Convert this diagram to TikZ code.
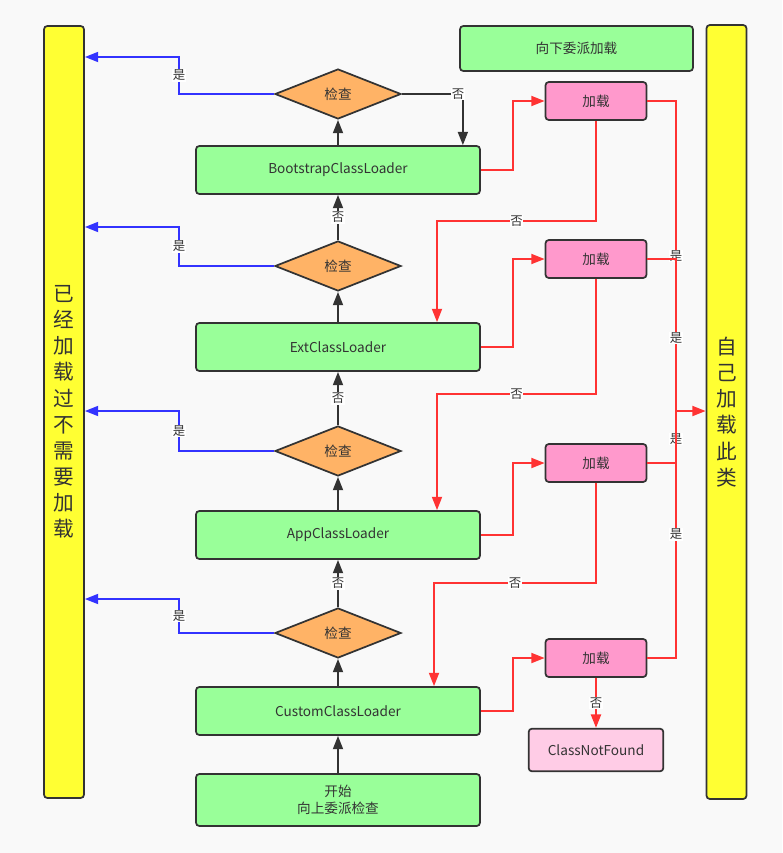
\documentclass[tikz,border=0pt]{standalone}
\usepackage{fontspec}
\setmainfont{Noto Sans CJK SC}
\usetikzlibrary{shapes.geometric,arrows.meta}
\definecolor{bgcol}{HTML}{F9F9F9}
\definecolor{edgecol}{HTML}{333333}
\definecolor{greenfill}{HTML}{99FF99}
\definecolor{yellowfill}{HTML}{FFFF33}
\definecolor{orangefill}{HTML}{FFB366}
\definecolor{pinkfill}{HTML}{FF99CC}
\definecolor{lightpink}{HTML}{FFCCE6}
\definecolor{redline}{HTML}{FF3333}
\definecolor{blueline}{HTML}{3333FF}
\begin{document}
\begin{tikzpicture}[x=0.75pt,y=-0.75pt,
    font=\fontsize{10.2}{12.5}\selectfont, text=edgecol,
    box/.style={draw=edgecol, line width=1.3pt, rounded corners=2.5pt, align=center, inner sep=0pt},
    loader/.style={box, fill=greenfill, minimum width=213pt, minimum height=36pt},
    check/.style={diamond, draw=edgecol, line width=1.3pt, fill=orangefill, minimum width=94.5pt, minimum height=37.5pt, inner sep=0pt},
    loadbox/.style={box, fill=pinkfill, minimum width=75.75pt, minimum height=28.5pt},
    barbox/.style={box, fill=yellowfill, minimum width=30pt, minimum height=579pt, font=\fontsize{15.5}{19.6}\selectfont},
    lbl/.style={fill=white, inner sep=0.5pt, font=\fontsize{9.3}{10}\selectfont},
    tip/.style={-{Triangle[length=10pt,width=7.5pt]}},
    up/.style={draw=edgecol, line width=1.4pt, tip},
    yes/.style={draw=blueline, line width=1.4pt, tip},
    load/.style={draw=redline, line width=1.4pt, tip},
    loadline/.style={draw=redline, line width=1.4pt}]
\fill[bgcol] (0,0) rectangle (782,853);
\useasboundingbox (0,0) rectangle (782,853);

\node[barbox] (done) at (64,412) {已\\经\\加\\载\\过\\不\\需\\要\\加\\载};
\node[barbox, minimum height=580.5pt] (self) at (726.5,412) {自\\己\\加\\载\\此\\类};
\node[loader, minimum width=174.75pt, minimum height=33.75pt] (down) at (576.5,48.5) {向下委派加载};

\node[loader] (boot) at (338,170) {BootstrapClassLoader};
\node[loader] (ext) at (338,347) {ExtClassLoader};
\node[loader] (app) at (338,535) {AppClassLoader};
\node[loader] (custom) at (338,711) {CustomClassLoader};
\node[loader, minimum height=39pt] (start) at (338,800) {开始\\向上委派检查};

\node[check] (c1) at (338,94) {检查};
\node[check] (c2) at (338,266) {检查};
\node[check] (c3) at (338,451) {检查};
\node[check] (c4) at (338,633) {检查};

\node[loadbox] (l1) at (596,101) {加载};
\node[loadbox] (l2) at (596,259) {加载};
\node[loadbox] (l3) at (596,463) {加载};
\node[loadbox] (l4) at (596,658) {加载};
\node[box, fill=lightpink, minimum width=101pt, minimum height=32pt] (nf) at (596,750) {ClassNotFound};

% upward delegation
\draw[up] (start) -- (custom);
\draw[up] (custom) -- (c4);
\draw[up] (c4) -- node[lbl]{否} (app);
\draw[up] (app) -- (c3);
\draw[up] (c3) -- node[lbl]{否} (ext);
\draw[up] (ext) -- (c2);
\draw[up] (c2) -- node[lbl]{否} (boot);
\draw[up] (boot) -- (c1);
\draw[up] (c1.east) -| node[lbl,pos=0.46]{否} ([xshift=-13.5pt]boot.north east);

% already loaded
\coordinate (b1) at (179,57);
\coordinate (b2) at (179,227);
\coordinate (b3) at (179,411);
\coordinate (b4) at (179,599);
\draw[yes] (c1.west) -| node[lbl,pos=0.75]{是} (b1) -- (b1 -| done.east);
\draw[yes] (c2.west) -| node[lbl,pos=0.75]{是} (b2) -- (b2 -| done.east);
\draw[yes] (c3.west) -| node[lbl,pos=0.75]{是} (b3) -- (b3 -| done.east);
\draw[yes] (c4.west) -| node[lbl,pos=0.75]{是} (b4) -- (b4 -| done.east);

% downward loading
\draw[load] (boot.east) -- ++(32,0) |- (l1.west);
\draw[load] (ext.east) -- ++(32,0) |- (l2.west);
\draw[load] (app.east) -- ++(32,0) |- (l3.west);
\draw[load] (custom.east) -- ++(32,0) |- (l4.west);
\coordinate (d1) at (437,221);
\coordinate (d2) at (437,394);
\coordinate (d3) at (434,583);
\draw[load] (l1.south) |- node[lbl,pos=0.75]{否} (d1) -- (d1 |- ext.north);
\draw[load] (l2.south) |- node[lbl,pos=0.75]{否} (d2) -- (d2 |- app.north);
\draw[load] (l3.south) |- node[lbl,pos=0.75]{否} (d3) -- (d3 |- custom.north);
\draw[load] (l4) -- node[lbl]{否} (nf);

% loaded by itself
\coordinate (r) at (676,411);
\draw[loadline] (l1.east) -| node[lbl,pos=0.75]{是} (r);
\draw[loadline] (l2.east) -| node[lbl,pos=0.76]{是} (r);
\draw[loadline] (l3.east) -| node[lbl,pos=0.73]{是} (r);
\draw[loadline] (l4.east) -| node[lbl,pos=0.75]{是} (r);
\draw[load] (r) -- (r -| self.west);
\end{tikzpicture}
\end{document}
